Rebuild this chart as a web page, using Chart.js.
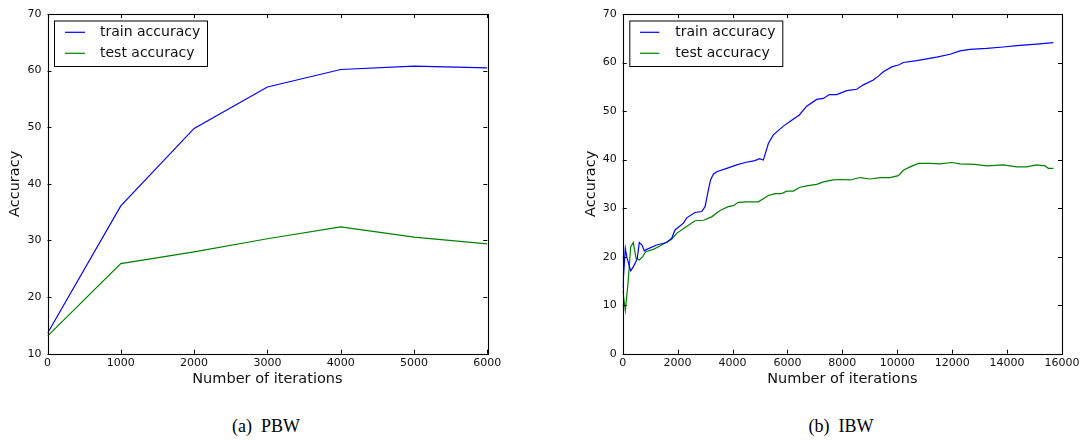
<!DOCTYPE html>
<html>
<head>
<meta charset="utf-8">
<script src="https://cdn.jsdelivr.net/npm/chart.js@4/dist/chart.umd.min.js"></script>
<style>
  html, body { margin: 0; padding: 0; background: #fff; }
  body { width: 1085px; height: 441px; position: relative; overflow: hidden; }
  canvas { position: absolute; top: 0; }
  #c1 { left: 0; }
  #c2 { left: 575px; }
  .cap { position: absolute; top: 416px; font-family: "Liberation Serif", "DejaVu Serif", serif; font-size: 18px; color: #000; transform: translateX(-50%); white-space: pre; }
</style>
</head>
<body>
<canvas id="c1" width="545" height="400"></canvas>
<canvas id="c2" width="510" height="400"></canvas>
<div class="cap" style="left:266px">(a)  PBW</div>
<div class="cap" style="left:841px">(b)  IBW</div>
<script>
// ---- Data ----
const seriesLabels = ['train accuracy', 'test accuracy'];

const pbwIter = [0, 1000, 2000, 3000, 4000, 5000, 6000];
const pbwTrain = [13.6, 36.1, 49.8, 57.1, 60.2, 60.8, 60.5];
const pbwTest = [13.1, 25.9, 28.0, 30.3, 32.4, 30.6, 29.4];

const ibwTrainIter = [0, 95, 146, 291, 386, 484, 532, 605, 703, 787, 874, 1238, 1602, 1785, 1906, 2210, 2331, 2634, 2877, 3000, 3060, 3130, 3200, 3300, 3424, 3788, 4152, 4455, 4820, 4978, 5123, 5305, 5487, 5852, 6155, 6434, 6701, 7066, 7308, 7527, 7794, 8158, 8522, 8765, 9129, 9312, 9494, 9797, 10040, 10222, 10708, 11436, 11922, 12286, 12650, 13257, 13864, 14350, 15078, 15685];
const ibwTrain = [13.5, 21.7, 20.0, 17.1, 17.9, 19.0, 19.7, 22.9, 22.4, 21.2, 21.5, 22.4, 22.9, 23.8, 25.5, 26.9, 28.0, 29.1, 29.3, 30.3, 32.0, 34.0, 35.8, 37.0, 37.5, 38.2, 38.9, 39.4, 39.8, 40.2, 39.9, 43.3, 45.1, 46.9, 48.1, 49.2, 51.0, 52.4, 52.6, 53.4, 53.4, 54.2, 54.5, 55.4, 56.4, 57.2, 58.1, 59.1, 59.5, 60.0, 60.4, 61.1, 61.7, 62.4, 62.7, 62.9, 63.2, 63.5, 63.8, 64.1];

const ibwTestIter = [0, 95, 193, 291, 386, 484, 605, 728, 837, 1115, 1358, 1784, 1967, 2270, 2634, 2938, 3241, 3545, 3848, 4031, 4213, 4516, 4941, 5305, 5548, 5791, 5973, 6216, 6459, 6701, 7066, 7308, 7673, 7915, 8280, 8644, 9008, 9372, 9736, 10040, 10222, 10465, 10768, 11193, 11558, 11983, 12286, 12832, 13257, 13864, 14350, 14714, 15078, 15382, 15503, 15685];
const ibwTest = [13.1, 8.9, 14.5, 22.0, 22.9, 19.7, 19.3, 20.0, 21.0, 21.5, 22.2, 23.6, 24.8, 26.0, 27.4, 27.5, 28.2, 29.5, 30.3, 30.5, 31.2, 31.3, 31.3, 32.6, 33.0, 33.0, 33.5, 33.5, 34.3, 34.6, 34.9, 35.4, 35.8, 35.9, 35.8, 36.3, 36.0, 36.3, 36.3, 36.7, 37.8, 38.5, 39.2, 39.2, 39.1, 39.4, 39.1, 39.0, 38.7, 38.9, 38.5, 38.5, 38.9, 38.7, 38.2, 38.2];

const pbwXTicks = [0, 1000, 2000, 3000, 4000, 5000, 6000];
const pbwYTicks = [10, 20, 30, 40, 50, 60, 70];
const ibwXTicks = [0, 2000, 4000, 6000, 8000, 10000, 12000, 14000, 16000];
const ibwYTicks = [0, 10, 20, 30, 40, 50, 60, 70];

const axisTitleX = 'Number of iterations';
const axisTitleY = 'Accuracy';

// ---- helpers ----
const FONT = '"DejaVu Sans", sans-serif';
const TEXT = '#111';
const toXY = (xs, ys) => xs.map((x, i) => ({x: x, y: ys[i]}));

function makeFramePlugin(lg) {
  return {
    id: 'frame',
    afterDraw(chart) {
      const ctx = chart.ctx, a = chart.chartArea;
      const xs = chart.scales.x, ys = chart.scales.y;
      ctx.save();
      ctx.strokeStyle = '#000';
      ctx.lineWidth = 1;
      const L = 4;
      ctx.beginPath();
      xs.ticks.forEach(t => {
        const px = Math.round(xs.getPixelForValue(t.value)) + 0.5;
        ctx.moveTo(px, a.bottom); ctx.lineTo(px, a.bottom - L);
        ctx.moveTo(px, a.top); ctx.lineTo(px, a.top + L);
      });
      ys.ticks.forEach(t => {
        const py = Math.round(ys.getPixelForValue(t.value)) + 0.5;
        ctx.moveTo(a.left, py); ctx.lineTo(a.left + L, py);
        ctx.moveTo(a.right, py); ctx.lineTo(a.right - L, py);
      });
      ctx.stroke();
      ctx.lineWidth = 1.1;
      ctx.strokeRect(Math.round(a.left) + 0.5, Math.round(a.top) + 0.5, Math.round(a.right - a.left), Math.round(a.bottom - a.top));
      // legend box
      ctx.fillStyle = '#fff';
      ctx.fillRect(lg.x, lg.y, lg.w, lg.h);
      ctx.lineWidth = 1;
      ctx.strokeStyle = '#000';
      ctx.strokeRect(lg.x + 0.5, lg.y + 0.5, lg.w, lg.h);
      ctx.font = '14px ' + FONT;
      ctx.textBaseline = 'middle';
      ctx.textAlign = 'left';
      chart.data.datasets.forEach((ds, i) => {
        const yy = lg.y + lg.row0 + i * lg.rowH;
        ctx.strokeStyle = ds.borderColor;
        ctx.lineWidth = 1.2;
        ctx.beginPath();
        ctx.moveTo(lg.x + lg.lineX0, yy); ctx.lineTo(lg.x + lg.lineX1, yy);
        ctx.stroke();
        ctx.fillStyle = TEXT;
        ctx.fillText(ds.label, lg.x + lg.textX, yy);
      });
      ctx.restore();
    }
  };
}

function makeChart(id, datasets, xTicks, yTicks, padLeft, padRight, legendOpts) {
  const ticksFont = {family: FONT, size: 11};
  const titleFont = {family: FONT, size: 14.5};
  return new Chart(document.getElementById(id), {
    type: 'line',
    data: {datasets: datasets},
    plugins: [makeFramePlugin(legendOpts)],
    options: {
      responsive: false,
      maintainAspectRatio: false,
      animation: false,
      layout: {padding: {left: padLeft, right: padRight, top: 14, bottom: 0}},
      elements: {point: {radius: 0}, line: {tension: 0, borderWidth: 1.2}},
      plugins: {legend: {display: false}, tooltip: {enabled: false}},
      scales: {
        x: {
          type: 'linear',
          min: xTicks[0], max: xTicks[xTicks.length - 1],
          afterBuildTicks: s => { s.ticks = xTicks.map(v => ({value: v})); },
          afterFit: s => { s.height = 46.3; },
          grid: {display: false, drawTicks: false},
          border: {display: false},
          ticks: {font: ticksFont, color: TEXT, padding: 3, maxRotation: 0, autoSkip: false, callback: v => String(v)},
          title: {display: true, text: axisTitleX, font: titleFont, color: TEXT, padding: {top: 0, bottom: 12.3}}
        },
        y: {
          type: 'linear',
          min: yTicks[0], max: yTicks[yTicks.length - 1],
          afterBuildTicks: s => { s.ticks = yTicks.map(v => ({value: v})); },
          afterFit: s => { s.width = 47.5; },
          grid: {display: false, drawTicks: false},
          border: {display: false},
          ticks: {font: ticksFont, color: TEXT, padding: 6, autoSkip: false, callback: v => String(v)},
          title: {display: true, text: axisTitleY, font: titleFont, color: TEXT, padding: {top: 7, bottom: 0}}
        }
      }
    }
  });
}

const BLUE = '#0000ff', GREEN = '#008000';

makeChart('c1', [
  {label: seriesLabels[0], data: toXY(pbwIter, pbwTrain), borderColor: BLUE, fill: false},
  {label: seriesLabels[1], data: toXY(pbwIter, pbwTest), borderColor: GREEN, fill: false}
], pbwXTicks, pbwYTicks, 0, 545 - 487.3,
  {x: 54, y: 20.5, w: 153, h: 45.5, row0: 11.8, rowH: 21, lineX0: 11, lineX1: 31, textX: 46});

makeChart('c2', [
  {label: seriesLabels[0], data: toXY(ibwTrainIter, ibwTrain), borderColor: BLUE, fill: false},
  {label: seriesLabels[1], data: toXY(ibwTestIter, ibwTest), borderColor: GREEN, fill: false}
], ibwXTicks, ibwYTicks, 0.2, 510 - (1062 - 575),
  {x: 54.3, y: 20.5, w: 153, h: 45.5, row0: 11.8, rowH: 21, lineX0: 10.7, lineX1: 30, textX: 46});
</script>
</body>
</html>
